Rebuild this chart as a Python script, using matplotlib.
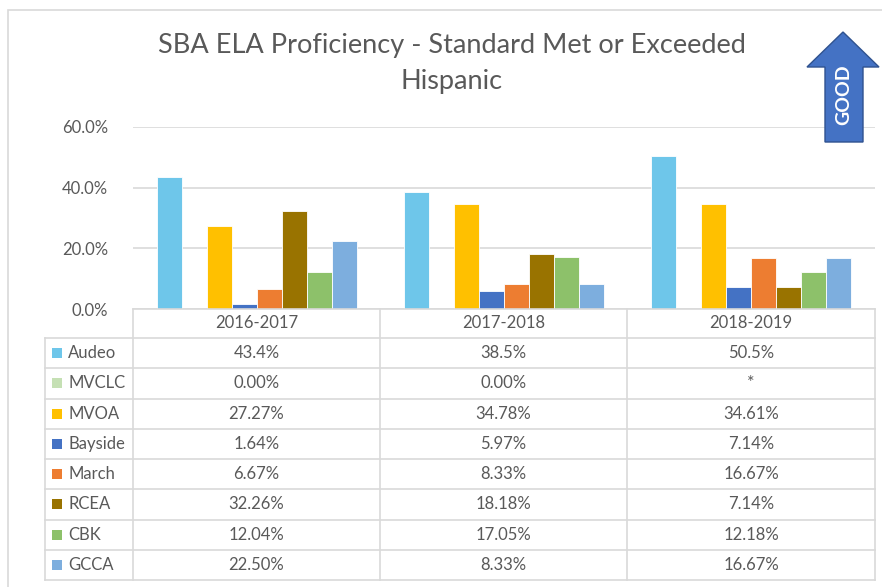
import numpy as np
import matplotlib.pyplot as plt
from matplotlib.patches import Rectangle, Polygon

years = ["2016-2017", "2017-2018", "2018-2019"]
schools = ["Audeo", "MVCLC", "MVOA", "Bayside", "March", "RCEA", "CBK", "GCCA"]

audeo = [43.4, 38.5, 50.5]
mvclc = [0.00, 0.00, np.nan]
mvoa = [27.27, 34.78, 34.61]
bayside = [1.64, 5.97, 7.14]
march = [6.67, 8.33, 16.67]
rcea = [32.26, 18.18, 7.14]
cbk = [12.04, 17.05, 12.18]
gcca = [22.50, 8.33, 16.67]
decimals = [1, 2, 2, 2, 2, 2, 2, 2]

colors = ["#6EC6EA", "#C5E0B4", "#FFC000", "#4472C4", "#ED7D31",
          "#997300", "#8DC16A", "#7DAEDE"]

series = [audeo, mvclc, mvoa, bayside, march, rcea, cbk, gcca]

W, H = 882, 587
plt.rcParams['font.family'] = ['Lato', 'DejaVu Sans']
txt = "#595959"
grid = "#D9D9D9"

fig = plt.figure(figsize=(W / 100, H / 100), dpi=100)


def fx(px):
    return px / W


def fy(py):
    return 1 - py / H


# chart border
fig.patches.append(Rectangle((fx(8), fy(592)), fx(880), 582 / H, transform=fig.transFigure,
                             fill=False, edgecolor=grid, linewidth=1.2))

left, right, top, zero = 133, 875, 127, 309
ax = fig.add_axes([fx(left), fy(zero), fx(right - left), (zero - top) / H])
n = len(series)
bw = 0.101
x = np.arange(len(years))
for i, (vals, c) in enumerate(zip(series, colors)):
    ax.bar(x + (i - (n - 1) / 2) * bw, np.array(vals) / 100, width=bw, color=c,
           edgecolor="white", linewidth=0.6, zorder=3)
ax.set_xlim(-0.5, len(years) - 0.5)
ax.set_ylim(0, 0.6)
ax.set_yticks([0, 0.2, 0.4, 0.6])
ax.set_yticklabels([f"{v * 100:.1f}%" for v in [0, 0.2, 0.4, 0.6]], color=txt, fontsize=12)
ax.tick_params(axis="y", length=0, pad=18)
ax.set_xticks([])
ax.grid(axis="y", color=grid, linewidth=1.2, zorder=0)
for s in ax.spines.values():
    s.set_visible(False)

# title
fig.text(fx(452), fy(46), "SBA ELA Proficiency - Standard Met or Exceeded", ha="center",
         va="center", fontsize=19.5, color=txt)
fig.text(fx(452), fy(82), "Hispanic", ha="center", va="center", fontsize=19.5, color=txt)

# GOOD arrow
arrow = [(825, 142), (825, 67), (807, 67), (843, 32), (879, 67), (863, 67), (863, 142)]
fig.patches.append(Polygon([(fx(a), fy(b)) for a, b in arrow], closed=True,
                           transform=fig.transFigure, facecolor="#4472C4",
                           edgecolor="#2F528F", linewidth=1, zorder=5))
fig.text(fx(844), fy(95), "GOOD", rotation=90, ha="center", va="center", color="white",
         fontsize=14, fontweight="bold", zorder=6)

# data table
col_x = [133, 380, 627, 875]
row_top = 338
row_h = 30.25
bottom = row_top + row_h * len(schools)
lw = 1.2


def line(x0, y0, x1, y1):
    fig.add_artist(plt.Line2D([fx(x0), fx(x1)], [fy(y0), fy(y1)], color=grid, linewidth=lw,
                              transform=fig.transFigure))


line(133, zero, 875, zero)
for cx in col_x:
    line(cx, zero, cx, bottom)
line(45, row_top, 45, bottom)
for r in range(len(schools) + 1):
    yy = row_top + r * row_h
    line(45, yy, 875, yy)

for j, yr in enumerate(years):
    fig.text(fx((col_x[j] + col_x[j + 1]) / 2), fy((zero + row_top) / 2), yr, ha="center",
             va="center", fontsize=12, color=txt)

for r, (name, vals, c, d) in enumerate(zip(schools, series, colors, decimals)):
    cy = row_top + (r + 0.5) * row_h
    fig.patches.append(Rectangle((fx(52), fy(cy + 5)), fx(10), 10 / H, transform=fig.transFigure,
                                 facecolor=c, edgecolor="none"))
    fig.text(fx(68), fy(cy), name, ha="left", va="center", fontsize=12, color=txt)
    for j, v in enumerate(vals):
        s = "*" if np.isnan(v) else f"{v:.{d}f}%"
        fig.text(fx((col_x[j] + col_x[j + 1]) / 2), fy(cy), s, ha="center", va="center",
                 fontsize=12 if s != "*" else 13, color=txt)

fig.savefig("out.png", dpi=100)
